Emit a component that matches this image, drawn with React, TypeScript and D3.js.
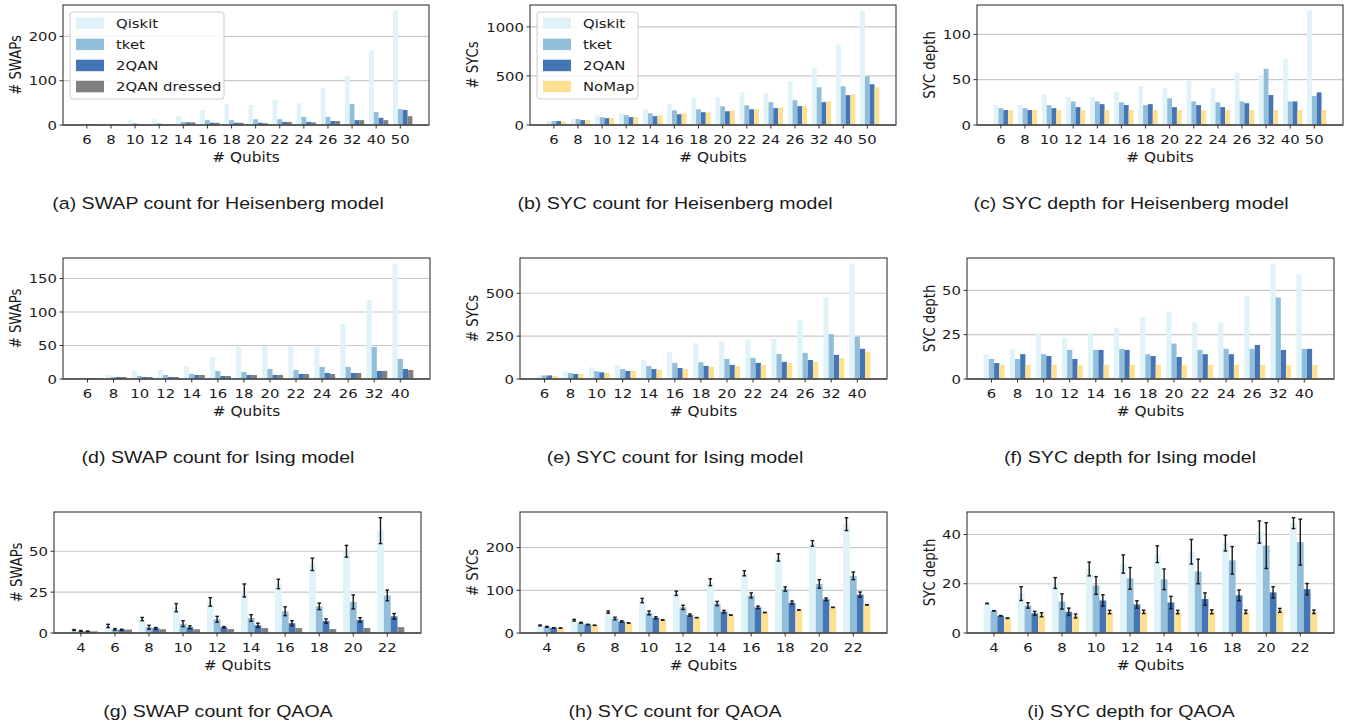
import React from 'react';
import * as d3 from 'd3';

// qubit counts (x categories)
const heisQubits = ['6', '8', '10', '12', '14', '16', '18', '20', '22', '24', '26', '32', '40', '50'];
const isingQubits = ['6', '8', '10', '12', '14', '16', '18', '20', '22', '24', '26', '32', '40'];
const qaoaQubits = ['4', '6', '8', '10', '12', '14', '16', '18', '20', '22'];

// (a) Heisenberg SWAP count
const heisSwapQiskit = [2, 4, 11, 13, 20, 34, 47, 45, 56, 49, 83, 110, 169, 258];
const heisSwapTket = [2, 2, 4, 4, 7, 11, 11, 13, 13, 18, 18, 47, 29, 36];
const heisSwap2qan = [2, 2, 2, 2, 6, 5, 5, 5, 7, 7, 9, 11, 16, 34];
const heisSwapDressed = [2, 2, 2, 2, 6, 5, 5, 4, 7, 6, 9, 11, 11, 20];
// (b) Heisenberg SYC count
const heisSycQiskit = [40, 60, 100, 120, 160, 210, 275, 285, 335, 325, 445, 580, 820, 1165];
const heisSycTket = [40, 60, 80, 100, 120, 150, 160, 190, 200, 233, 253, 385, 395, 497];
const heisSyc2qan = [40, 50, 70, 80, 90, 110, 130, 140, 160, 172, 192, 233, 304, 415];
const heisSycNoMap = [37, 50, 70, 80, 100, 120, 130, 150, 160, 180, 192, 243, 313, 385];
// (c) Heisenberg SYC depth
const heisDepthQiskit = [22, 22, 34, 31, 31, 37, 43, 40.5, 49, 40.5, 58, 55, 73, 126];
const heisDepthTket = [18.6, 18.6, 22, 26, 26, 25, 22, 29.5, 26, 25, 26, 62, 26, 32];
const heisDepth2qan = [16.5, 16.5, 18.6, 19.7, 23, 22, 23, 19.7, 22, 19.7, 24, 33, 26, 36];
const heisDepthNoMap = [16.5, 16.5, 16.5, 16.5, 16.5, 16.5, 16.5, 16.5, 16.5, 16.5, 16.5, 16.5, 16.5, 16.5];

// (d) Ising SWAP count
const isingSwapQiskit = [2, 6, 12, 13.5, 19, 33, 48, 49, 48, 48, 82, 118, 172];
const isingSwapTket = [1.5, 3, 4.5, 6, 7.5, 12, 10.5, 15, 13.5, 18, 18, 48, 30];
const isingSwap2qan = [1.5, 3, 3, 3, 6, 4.5, 6, 6, 7.5, 9, 9, 12, 15];
const isingSwapDressed = [1.5, 3, 3, 3, 6, 4.5, 6, 6, 7.5, 7.5, 9, 12, 13.5];
// (e) Ising SYC count
const isingSycQiskit = [21, 45, 68, 80, 111, 158, 209, 221, 228, 234, 344, 479, 672];
const isingSycTket = [21, 35, 45, 58, 76, 94, 98, 117, 123, 146, 152, 262, 246];
const isingSyc2qan = [21, 29, 39, 47, 58, 64, 76, 82, 94, 100, 111, 141, 176];
const isingSycNoMap = [17, 29, 35, 47, 53, 58, 70, 76, 82, 94, 100, 123, 158];
// (f) Ising SYC depth
const isingDepthQiskit = [14, 17, 26, 23, 26, 29, 35, 38, 32, 32, 47, 65, 59];
const isingDepthTket = [11.3, 11.3, 14, 16.4, 16.4, 17, 14, 20, 16.4, 17, 17, 46, 17];
const isingDepth2qan = [9, 14, 13, 11.3, 16.4, 16.4, 13, 12.4, 14, 14, 19.2, 16.4, 17];
const isingDepthNoMap = [8, 8, 8, 8, 8, 8, 8, 8, 8, 8, 8, 8, 8];

// (g) QAOA SWAP count (mean, error)
const qaoaSwapQiskit = [1.8, 4.3, 8.5, 15.5, 19, 26, 30, 42, 50, 62.6];
const qaoaSwapQiskitErr = [0.3, 1, 1, 2.5, 2.6, 4, 2.9, 3.8, 3.6, 7.9];
const qaoaSwapTket = [1.2, 2.2, 3.5, 5.7, 8.4, 9.2, 13.3, 16.3, 19, 23];
const qaoaSwapTketErr = [0.3, 0.5, 1.2, 1.8, 1.8, 2, 2.7, 2, 4.3, 3.3];
const qaoaSwap2qan = [1, 2, 2.9, 3.5, 3.5, 4.7, 6, 7.3, 8, 10.2];
const qaoaSwap2qanErr = [0.2, 0.3, 0.5, 0.9, 0.4, 1.3, 1.5, 1.3, 1.4, 1.7];
const qaoaSwapDressed = [1, 2.1, 2.3, 2.3, 2.4, 3, 3, 2.4, 3.1, 3.6];
// (h) QAOA SYC count
const qaoaSycQiskit = [17.7, 30, 49, 76, 93, 119, 140, 177, 210, 255];
const qaoaSycQiskitErr = [1, 2, 2.5, 5, 5, 8, 6, 8.5, 6.5, 15];
const qaoaSycTket = [14.5, 24, 34, 47, 60, 69, 88, 103, 115, 134];
const qaoaSycTketErr = [1, 1, 3, 4.5, 5, 5, 6, 5, 10, 9];
const qaoaSyc2qan = [12, 20, 27, 35.5, 42, 50, 60, 71, 79, 90];
const qaoaSyc2qanErr = [0.5, 0.5, 1.5, 2.5, 2.5, 3, 3, 4, 3, 6];
const qaoaSycNoMap = [11.5, 18, 23.5, 30.5, 36, 42, 48, 54, 60, 66];
const qaoaSycNoMapErr = [0.3, 0.3, 0.3, 0.3, 0.3, 0.3, 0.3, 0.3, 0.3, 0.3];
// (i) QAOA SYC depth
const qaoaDepthQiskit = [12, 16, 20.3, 26, 28, 32, 33, 36.5, 41, 44.6];
const qaoaDepthQiskitErr = [0.1, 2.8, 2.2, 2.8, 3.7, 3.4, 5, 3.2, 4.5, 2.2];
const qaoaDepthTket = [9, 11.2, 12.8, 19.3, 22.2, 21.8, 25, 29.5, 35.5, 36.9];
const qaoaDepthTketErr = [0.1, 1.1, 3.1, 3.6, 4.4, 4.2, 5, 5.6, 9.3, 9.3];
const qaoaDepth2qan = [7, 8, 8.6, 13.2, 11.6, 12.4, 13.8, 15.3, 16.5, 17.8];
const qaoaDepth2qanErr = [0.1, 0.8, 1.5, 2.3, 1.5, 2.5, 2.5, 2.2, 2.3, 2.3];
const qaoaDepthNoMap = [6, 7.4, 6.9, 8.5, 8.6, 8.5, 8.6, 8.6, 9.2, 8.6];
const qaoaDepthNoMapErr = [0.1, 0.8, 0.8, 0.7, 0.7, 0.7, 0.8, 0.7, 0.8, 0.7];

const C = { qiskit: '#e0f3f8', tket: '#91bfdb', qan: '#4575b4', dressed: '#808080', nomap: '#fee090' };
const SX = 1.16; // glyphs in the reference are a little wider than tall
const TICK_FONT = 'DejaVu Sans, sans-serif';
const CAP_FONT = 'Liberation Sans, Arial, sans-serif';

type Series = { name: string; color: string; values: number[]; err?: number[] };
type Panel = {
  left: number; right: number; top: number; bottom: number; capX: number;
  cats: string[]; series: Series[]; yTicks: number[]; yLabel: string; caption: string; legend?: boolean;
};

const swapSeries = (q: number[], t: number[], a: number[], d: number[], qe?: number[], te?: number[], ae?: number[]): Series[] => [
  { name: 'Qiskit', color: C.qiskit, values: q, err: qe },
  { name: 'tket', color: C.tket, values: t, err: te },
  { name: '2QAN', color: C.qan, values: a, err: ae },
  { name: '2QAN dressed', color: C.dressed, values: d },
];
const sycSeries = (q: number[], t: number[], a: number[], n: number[], qe?: number[], te?: number[], ae?: number[], ne?: number[]): Series[] => [
  { name: 'Qiskit', color: C.qiskit, values: q, err: qe },
  { name: 'tket', color: C.tket, values: t, err: te },
  { name: '2QAN', color: C.qan, values: a, err: ae },
  { name: 'NoMap', color: C.nomap, values: n, err: ne },
];

const panels: Panel[] = [
  { left: 63, right: 429, top: 5, bottom: 125, capX: 218, cats: heisQubits, yTicks: [0, 100, 200], yLabel: '# SWAPs', legend: true,
    caption: '(a) SWAP count for Heisenberg model', series: swapSeries(heisSwapQiskit, heisSwapTket, heisSwap2qan, heisSwapDressed) },
  { left: 530, right: 896, top: 5, bottom: 125, capX: 675, cats: heisQubits, yTicks: [0, 500, 1000], yLabel: '# SYCs', legend: true,
    caption: '(b) SYC count for Heisenberg model', series: sycSeries(heisSycQiskit, heisSycTket, heisSyc2qan, heisSycNoMap) },
  { left: 977, right: 1343, top: 5, bottom: 125, capX: 1131, cats: heisQubits, yTicks: [0, 50, 100], yLabel: 'SYC depth',
    caption: '(c) SYC depth for Heisenberg model', series: sycSeries(heisDepthQiskit, heisDepthTket, heisDepth2qan, heisDepthNoMap) },
  { left: 63, right: 430, top: 258, bottom: 379, capX: 218, cats: isingQubits, yTicks: [0, 50, 100, 150], yLabel: '# SWAPs',
    caption: '(d) SWAP count for Ising model', series: swapSeries(isingSwapQiskit, isingSwapTket, isingSwap2qan, isingSwapDressed) },
  { left: 520, right: 887, top: 258, bottom: 379, capX: 675, cats: isingQubits, yTicks: [0, 250, 500], yLabel: '# SYCs',
    caption: '(e) SYC count for Ising model', series: sycSeries(isingSycQiskit, isingSycTket, isingSyc2qan, isingSycNoMap) },
  { left: 967, right: 1334, top: 258, bottom: 379, capX: 1130, cats: isingQubits, yTicks: [0, 25, 50], yLabel: 'SYC depth',
    caption: '(f) SYC depth for Ising model', series: sycSeries(isingDepthQiskit, isingDepthTket, isingDepth2qan, isingDepthNoMap) },
  { left: 54, right: 421, top: 512, bottom: 633, capX: 218, cats: qaoaQubits, yTicks: [0, 25, 50], yLabel: '# SWAPs',
    caption: '(g) SWAP count for QAOA',
    series: swapSeries(qaoaSwapQiskit, qaoaSwapTket, qaoaSwap2qan, qaoaSwapDressed, qaoaSwapQiskitErr, qaoaSwapTketErr, qaoaSwap2qanErr) },
  { left: 520, right: 887, top: 512, bottom: 633, capX: 675, cats: qaoaQubits, yTicks: [0, 100, 200], yLabel: '# SYCs',
    caption: '(h) SYC count for QAOA',
    series: sycSeries(qaoaSycQiskit, qaoaSycTket, qaoaSyc2qan, qaoaSycNoMap, qaoaSycQiskitErr, qaoaSycTketErr, qaoaSyc2qanErr, qaoaSycNoMapErr) },
  { left: 967, right: 1334, top: 512, bottom: 633, capX: 1131, cats: qaoaQubits, yTicks: [0, 20, 40], yLabel: 'SYC depth',
    caption: '(i) SYC depth for QAOA',
    series: sycSeries(qaoaDepthQiskit, qaoaDepthTket, qaoaDepth2qan, qaoaDepthNoMap, qaoaDepthQiskitErr, qaoaDepthTketErr, qaoaDepth2qanErr, qaoaDepthNoMapErr) },
];

function Txt(props: { x: number; y: number; size: number; anchor?: string; family?: string; rotate?: boolean; sx?: number; children: React.ReactNode; dy?: string }) {
  const { x, y, size, anchor = 'middle', family = TICK_FONT, rotate, sx = SX, children, dy } = props;
  return (
    <text transform={`translate(${x},${y}) scale(${sx},1)${rotate ? ' rotate(-90)' : ''}`} fontSize={size} fontFamily={family}
      textAnchor={anchor} fill="#1a1a1a" dy={dy}>{children}</text>
  );
}

function BarPanel({ p }: { p: Panel }) {
  const n = p.cats.length;
  const w = 0.2;
  const span = n - 1 + 4 * w;
  const x = d3.scaleLinear().domain([-1.5 * w - 0.05 * span, n - 1 + 2.5 * w + 0.05 * span]).range([p.left, p.right]);
  const yMax = d3.max(p.series, s => d3.max(s.values, (v, i) => v + (s.err ? s.err[i] : 0))) as number;
  const y = d3.scaleLinear().domain([0, yMax * 1.05]).range([p.bottom, p.top]);
  const bw = x(w) - x(0);
  const labelOff = 18 + 10 * d3.max(p.yTicks, t => String(t).length)!;

  return (
    <g>
      {p.yTicks.map(t => (
        <line key={'g' + t} x1={p.left} x2={p.right} y1={y(t)} y2={y(t)} stroke="#c9c9c9" strokeWidth={1.2} />
      ))}
      {p.series.map((s, k) => (
        <g key={s.name}>
          {s.values.map((v, i) => (
            <rect key={i} x={x(i + (k - 1) * w) - bw / 2} width={bw} y={y(v)} height={y(0) - y(v)} fill={s.color} />
          ))}
        </g>
      ))}
      {p.series.map((s, k) => s.err ? (
        <g key={'e' + s.name} stroke="#1a1a1a" strokeWidth={1.4}>
          {s.values.map((v, i) => {
            const cx = x(i + (k - 1) * w);
            const y1 = y(v + s.err![i]);
            const y2 = y(Math.max(0, v - s.err![i]));
            return (
              <g key={i}>
                <line x1={cx} x2={cx} y1={y1} y2={y2} />
                <line x1={cx - 1.8} x2={cx + 1.8} y1={y1} y2={y1} />
                <line x1={cx - 1.8} x2={cx + 1.8} y1={y2} y2={y2} />
              </g>
            );
          })}
        </g>
      ) : null)}
      <rect x={p.left} y={p.top} width={p.right - p.left} height={p.bottom - p.top} fill="none" stroke="#222" strokeWidth={1} />
      <line x1={p.left} x2={p.right} y1={p.bottom} y2={p.bottom} stroke="#555" strokeWidth={1.6} />
      {p.cats.map((c, i) => (
        <g key={c}>
          <line x1={x(i)} x2={x(i)} y1={p.bottom} y2={p.bottom + 3.5} stroke="#333" />
          <Txt x={x(i)} y={p.bottom + 19} size={12.8}>{c}</Txt>
        </g>
      ))}
      {p.yTicks.map(t => (
        <g key={'t' + t}>
          <line x1={p.left - 3.5} x2={p.left} y1={y(t)} y2={y(t)} stroke="#333" />
          <Txt x={p.left - 6} y={y(t)} size={12.8} anchor="end" dy="0.36em">{t}</Txt>
        </g>
      ))}
      <Txt x={(p.left + p.right) / 2} y={p.bottom + 37} size={13.2}>{'# Qubits'}</Txt>
      <Txt x={p.left - labelOff} y={(p.top + p.bottom) / 2} size={13.2} rotate dy="0.36em">{p.yLabel}</Txt>
      {p.legend && (
        <g>
          <rect x={p.left + 7} y={p.top + 7} width={p.series.some(s => s.name.length > 8) ? 154 : 101} height={87} rx={3}
            fill="#fff" fillOpacity={0.85} stroke="#cccccc" />
          {p.series.map((s, k) => (
            <g key={'l' + s.name}>
              <rect x={p.left + 13} y={p.top + 12.5 + k * 21.1} width={28} height={11.5} fill={s.color} />
              <Txt x={p.left + 53} y={p.top + 18.3 + k * 21.1} size={12.8} anchor="start" dy="0.36em">{s.name}</Txt>
            </g>
          ))}
        </g>
      )}
      <Txt x={p.capX} y={p.bottom + 84} size={16.3} family={CAP_FONT} sx={1.2}>{p.caption}</Txt>
    </g>
  );
}

export default function App() {
  return (
    <svg width={1362} height={726} style={{ position: 'absolute', left: 0, top: 0, background: '#fff' }}>
      <rect width={1362} height={726} fill="#fff" />
      {panels.map(p => <BarPanel key={p.caption} p={p} />)}
    </svg>
  );
}
